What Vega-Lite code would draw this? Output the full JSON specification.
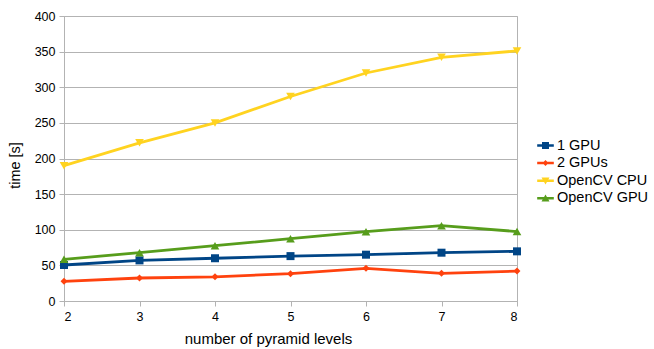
{
  "$schema": "https://vega.github.io/schema/vega-lite/v6.json",
  "width": 453,
  "height": 285,
  "autosize": {"type": "none"},
  "padding": {"left": 64, "top": 16, "right": 137, "bottom": 48},
  "background": "white",
  "config": {
    "font": "Liberation Sans",
    "view": {"stroke": "#b3b3b3", "strokeWidth": 1}
  },
  "data": {
    "values": [
      {"levels": 2, "series": "1 GPU", "time": 50.5},
      {"levels": 3, "series": "1 GPU", "time": 57},
      {"levels": 4, "series": "1 GPU", "time": 60},
      {"levels": 5, "series": "1 GPU", "time": 63},
      {"levels": 6, "series": "1 GPU", "time": 65},
      {"levels": 7, "series": "1 GPU", "time": 67.8},
      {"levels": 8, "series": "1 GPU", "time": 69.7},
      {"levels": 2, "series": "2 GPUs", "time": 27.6},
      {"levels": 3, "series": "2 GPUs", "time": 32.3},
      {"levels": 4, "series": "2 GPUs", "time": 34},
      {"levels": 5, "series": "2 GPUs", "time": 38.3},
      {"levels": 6, "series": "2 GPUs", "time": 45.9},
      {"levels": 7, "series": "2 GPUs", "time": 38.9},
      {"levels": 8, "series": "2 GPUs", "time": 42},
      {"levels": 2, "series": "OpenCV CPU", "time": 190},
      {"levels": 3, "series": "OpenCV CPU", "time": 222},
      {"levels": 4, "series": "OpenCV CPU", "time": 250},
      {"levels": 5, "series": "OpenCV CPU", "time": 287},
      {"levels": 6, "series": "OpenCV CPU", "time": 320},
      {"levels": 7, "series": "OpenCV CPU", "time": 342},
      {"levels": 8, "series": "OpenCV CPU", "time": 351},
      {"levels": 2, "series": "OpenCV GPU", "time": 58.5},
      {"levels": 3, "series": "OpenCV GPU", "time": 67.8},
      {"levels": 4, "series": "OpenCV GPU", "time": 77.6},
      {"levels": 5, "series": "OpenCV GPU", "time": 87.5},
      {"levels": 6, "series": "OpenCV GPU", "time": 97.3},
      {"levels": 7, "series": "OpenCV GPU", "time": 105.7},
      {"levels": 8, "series": "OpenCV GPU", "time": 97.5}
    ]
  },
  "encoding": {
    "x": {
      "field": "levels",
      "type": "quantitative",
      "scale": {"domain": [2, 8], "nice": false, "zero": false},
      "axis": {
        "title": "number of pyramid levels",
        "values": [2, 3, 4, 5, 6, 7, 8],
        "grid": false,
        "domainColor": "#b3b3b3",
        "tickColor": "#b3b3b3",
        "tickSize": 5,
        "labelFontSize": 12.5,
        "labelColor": "#000000",
        "labelPadding": 4,
        "titleFontSize": 15,
        "titleFontWeight": "normal",
        "titleColor": "#000000",
        "titleX": 204,
        "titleY": 37,
        "titleAlign": "center",
        "titleBaseline": "middle"
      }
    },
    "y": {
      "field": "time",
      "type": "quantitative",
      "scale": {"domain": [0, 400], "nice": false},
      "axis": {
        "title": "time [s]",
        "values": [0, 50, 100, 150, 200, 250, 300, 350, 400],
        "gridColor": "#b3b3b3",
        "gridOpacity": 1,
        "domainColor": "#b3b3b3",
        "tickColor": "#b3b3b3",
        "tickSize": 5,
        "labelFontSize": 12.5,
        "labelColor": "#000000",
        "labelPadding": 4,
        "titleFontSize": 14.5,
        "titleFontWeight": "normal",
        "titleColor": "#000000",
        "titleAngle": 270,
        "titleX": -49,
        "titleY": 149,
        "titleAlign": "center",
        "titleBaseline": "middle"
      }
    },
    "color": {
      "field": "series",
      "type": "nominal",
      "scale": {
        "domain": ["1 GPU", "2 GPUs", "OpenCV CPU", "OpenCV GPU"],
        "range": ["#004586", "#ff420e", "#ffd320", "#579d1c"]
      },
      "legend": {
        "title": null,
        "orient": "none",
        "legendX": 473,
        "legendY": 121,
        "labelFontSize": 14.5,
        "labelColor": "#000000",
        "rowPadding": 2.6,
        "symbolSize": 276,
        "symbolStrokeWidth": 0,
        "labelOffset": 3,
        "encode": {
          "symbols": {
            "update": {
              "fill": {"signal": "scale('color', datum.value)"},
              "fillOpacity": {"value": 1},
              "strokeWidth": {"value": 0},
              "size": {"value": 276},
              "shape": {
                "signal": "datum.value === '1 GPU' ? 'M-1,-0.15H1V0.15H-1Z M-0.42,-0.42H0.42V0.42H-0.42Z' : datum.value === '2 GPUs' ? 'M-1,-0.15H1V0.15H-1Z M0,-0.36L0.36,0L0,0.36L-0.36,0Z' : datum.value === 'OpenCV CPU' ? 'M-1,-0.15H1V0.15H-1Z M-0.48,-0.4L0.48,-0.4L0,0.46Z' : 'M-1,-0.15H1V0.15H-1Z M0,-0.46L0.48,0.4L-0.48,0.4Z'"
              }
            }
          }
        }
      }
    }
  },
  "layer": [
    {
      "mark": {"type": "line", "strokeWidth": 2.8}
    },
    {
      "transform": [{"filter": "datum.series === '1 GPU'"}],
      "mark": {"type": "point", "filled": true, "opacity": 1, "shape": "square", "size": 64}
    },
    {
      "transform": [{"filter": "datum.series === '2 GPUs'"}],
      "mark": {"type": "point", "filled": true, "opacity": 1, "shape": "diamond", "size": 48}
    },
    {
      "transform": [{"filter": "datum.series === 'OpenCV CPU'"}],
      "mark": {"type": "point", "filled": true, "opacity": 1, "shape": "triangle-down", "size": 75}
    },
    {
      "transform": [{"filter": "datum.series === 'OpenCV GPU'"}],
      "mark": {"type": "point", "filled": true, "opacity": 1, "shape": "triangle-up", "size": 75}
    }
  ]
}
